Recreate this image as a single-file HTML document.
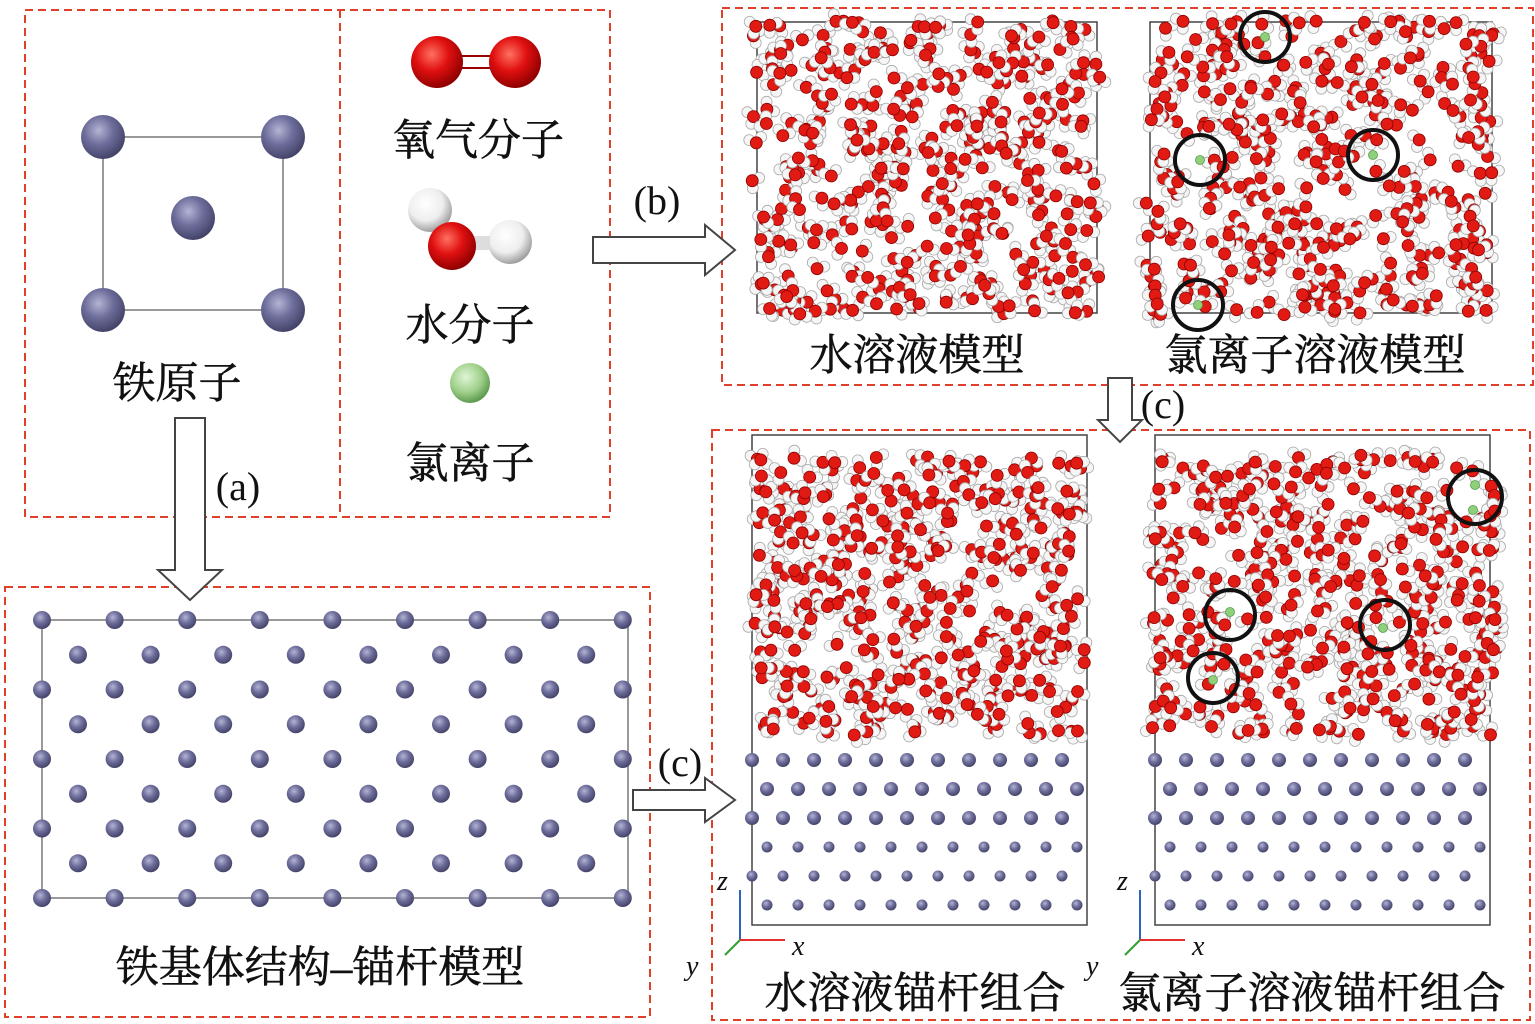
<!DOCTYPE html>
<html><head><meta charset="utf-8">
<style>
body{margin:0;background:#fff;}
svg{display:block}
.t{font-family:"Liberation Serif","Noto Serif CJK SC",serif;font-size:43px;fill:#111;text-anchor:middle;stroke:#111;stroke-width:0.6}
.l{font-family:"Liberation Serif",serif;font-size:40px;fill:#111;text-anchor:middle}
.ax{font-family:"Liberation Serif",serif;font-style:italic;font-size:28px;fill:#111}
</style></head><body>
<svg id="s" width="1535" height="1024" viewBox="0 0 1535 1024" xmlns="http://www.w3.org/2000/svg">
<defs>
<radialGradient id="fe" cx="40%" cy="35%" r="65%"><stop offset="0" stop-color="#b4b4d4"/><stop offset="0.5" stop-color="#6e6e9c"/><stop offset="1" stop-color="#44446a"/></radialGradient>
<radialGradient id="ox" cx="40%" cy="35%" r="65%"><stop offset="0" stop-color="#ff7060"/><stop offset="0.5" stop-color="#e01010"/><stop offset="1" stop-color="#900000"/></radialGradient>
<radialGradient id="hy" cx="40%" cy="35%" r="65%"><stop offset="0" stop-color="#ffffff"/><stop offset="0.6" stop-color="#eeeeee"/><stop offset="1" stop-color="#a0a0a0"/></radialGradient>
<radialGradient id="cl" cx="40%" cy="35%" r="65%"><stop offset="0" stop-color="#e0f5d8"/><stop offset="0.6" stop-color="#9fd08a"/><stop offset="1" stop-color="#5f9a50"/></radialGradient>
</defs>
<g fill="none" stroke="#e0402a" stroke-width="2" stroke-dasharray="8,5">
<rect x="25" y="10" width="585" height="507"/>
<line x1="340" y1="10" x2="340" y2="517"/>
<rect x="5" y="587" width="645" height="430"/>
<rect x="722" y="8" width="811" height="377"/>
<rect x="712" y="430" width="818" height="590"/>
</g>
<g stroke="#999" stroke-width="2"><line x1="103" y1="137" x2="283" y2="137"/><line x1="103" y1="310" x2="283" y2="310"/><line x1="103" y1="137" x2="103" y2="310"/><line x1="283" y1="137" x2="283" y2="310"/></g>
<g fill="url(#fe)"><circle cx="103" cy="137" r="22"/><circle cx="283" cy="137" r="22"/><circle cx="193" cy="218" r="22"/><circle cx="103" cy="310" r="22"/><circle cx="283" cy="310" r="22"/></g>
<text class="t" x="177" y="398">铁原子</text>
<rect x="450" y="56" width="55" height="12" fill="#fff" stroke="#900" stroke-width="2"/>
<circle cx="437" cy="62" r="26" fill="url(#ox)"/><circle cx="515" cy="62" r="26" fill="url(#ox)"/>
<text class="t" x="478" y="155">氧气分子</text>
<circle cx="430" cy="210" r="22" fill="url(#hy)"/>
<circle cx="510" cy="242" r="22" fill="url(#hy)"/>
<rect x="470" y="236" width="20" height="14" fill="#ddd"/>
<circle cx="452" cy="246" r="24" fill="url(#ox)"/>
<text class="t" x="470" y="340">水分子</text>
<circle cx="470" cy="383" r="20" fill="url(#cl)"/>
<text class="t" x="470" y="478">氯离子</text>
<g fill="#fff" stroke="#444" stroke-width="2">
<polygon points="175,418 205,418 205,570 222,570 190,600 158,570 175,570"/>
<polygon points="593,237 705,237 705,225 735,250 705,275 705,263 593,263"/>
<polygon points="1108,378 1132,378 1132,420 1142,420 1120,442 1098,420 1108,420"/>
<polygon points="633,790 705,790 705,778 735,800 705,822 705,810 633,810"/>
</g>
<text class="l" x="238" y="500">(a)</text>
<text class="l" x="657" y="214">(b)</text>
<text class="l" x="1163" y="418">(c)</text>
<text class="l" x="680" y="776">(c)</text>
<rect x="42" y="620" width="586" height="278" fill="none" stroke="#999" stroke-width="2"/>
<g id="lat" fill="url(#fe)"></g>
<text class="t" x="320" y="982">铁基体结构–锚杆模型</text>
<g fill="none" stroke="#444" stroke-width="1.5">
<rect x="757" y="22" width="340" height="291"/><rect x="1150" y="22" width="342" height="291"/>
<rect x="752" y="435" width="335" height="490"/><rect x="1155" y="435" width="335" height="490"/>
</g>
<g id="mol"></g>
<g fill="none" stroke="#111" stroke-width="4">
<circle cx="1265" cy="37" r="25"/><circle cx="1200" cy="160" r="25"/><circle cx="1373" cy="155" r="25"/><circle cx="1198" cy="305" r="25"/>
<circle cx="1475" cy="497" r="27"/><circle cx="1230" cy="615" r="25"/><circle cx="1385" cy="625" r="25"/><circle cx="1213" cy="678" r="25"/>
</g>
<text class="t" x="917" y="370">水溶液模型</text>
<text class="t" x="1315" y="370">氯离子溶液模型</text>
<g stroke-width="2"><line x1="740" y1="940" x2="740" y2="890" stroke="#3060c0"/><line x1="740" y1="940" x2="785" y2="940" stroke="#e03030"/><line x1="740" y1="940" x2="725" y2="955" stroke="#30a030"/>
<line x1="1140" y1="940" x2="1140" y2="890" stroke="#3060c0"/><line x1="1140" y1="940" x2="1185" y2="940" stroke="#e03030"/><line x1="1140" y1="940" x2="1125" y2="955" stroke="#30a030"/></g>
<text class="ax" x="717" y="890">z</text><text class="ax" x="792" y="955">x</text><text class="ax" x="686" y="975">y</text>
<text class="ax" x="1117" y="890">z</text><text class="ax" x="1192" y="955">x</text><text class="ax" x="1086" y="975">y</text>
<text class="t" x="915" y="1008">水溶液锚杆组合</text>
<text class="t" x="1312" y="1008">氯离子溶液锚杆组合</text>
</svg>
<script>
var NS="http://www.w3.org/2000/svg";
function c(g,x,y,r,f,st){var e=document.createElementNS(NS,"circle");e.setAttribute("cx",x.toFixed(1));e.setAttribute("cy",y.toFixed(1));e.setAttribute("r",r);e.setAttribute("fill",f);if(st){e.setAttribute("stroke",st);e.setAttribute("stroke-width","0.8");}g.appendChild(e);}
var lat=document.getElementById("lat");
for(var i=0;i<9;i++){var y=620+i*34.75;var odd=i%2;
 for(var j=0;j<(odd?8:9);j++){var x=odd?78+j*72.6:42+j*72.6;c(lat,x,y,9,"url(#fe)");}}
var s=1234567;function R(){s=(s*1103515245+12345)%2147483648;return s/2147483648;}
var mol=document.getElementById("mol");
function water(x0,y0,x1,y1,n){for(var k=0;k<n;k++){var x=x0+R()*(x1-x0),y=y0+R()*(y1-y0);var a=R()*6.28,b=a+1.9;
 c(mol,x+7.5*Math.cos(a),y+7.5*Math.sin(a),5.5,"#f6f6f6","#aaa");c(mol,x+7.5*Math.cos(b),y+7.5*Math.sin(b),5.5,"#f6f6f6","#aaa");c(mol,x,y,6,"#e21a14","#8a0000");}}
water(752,20,1100,315,420);water(1145,20,1495,315,420);
water(755,455,1088,735,440);water(1152,455,1498,735,440);
[[1265,37],[1200,160],[1373,155],[1198,305],[1475,485],[1473,510],[1230,612],[1383,628],[1213,680]].forEach(function(p){c(mol,p[0],p[1],4.5,"#8fd07a","#5a9a50");});
function fe(x0){for(var i=0;i<6;i++){var y=760+i*29;var n=11;for(var j=0;j<n;j++){var x=x0+(i%2?15:0)+j*31;if(x<x0+335)c(mol,x,y,i<3?7:5.5,"url(#fe)");}}}
fe(752);fe(1155);
</script>
</body></html>
